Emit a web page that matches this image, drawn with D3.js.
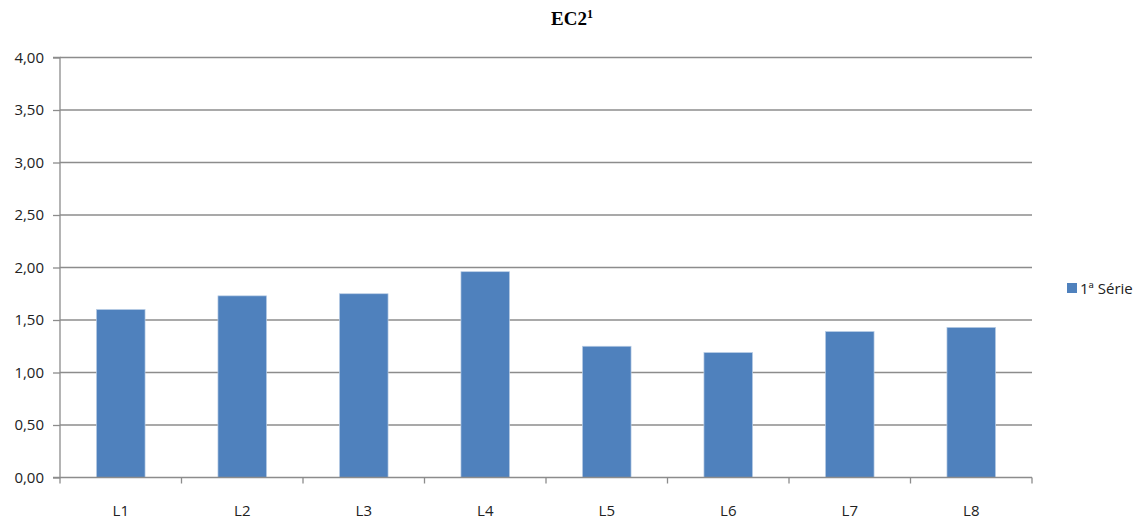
<!DOCTYPE html>
<html><head><meta charset="utf-8">
<script src="https://cdn.jsdelivr.net/npm/d3@7"></script>
<style>body{margin:0;background:#fff}svg{display:block}</style>
</head><body>
<svg id="c" width="1147" height="522"></svg>
<script>
const categories = ["L1","L2","L3","L4","L5","L6","L7","L8"];
const values = [1.60,1.73,1.75,1.96,1.25,1.19,1.39,1.43];
const yTicks = [0,0.5,1,1.5,2,2.5,3,3.5,4];
const seriesName = "1ª Série";

const svg = d3.select("#c");
const m = {l:60, r:1032, t:57.5, b:477.5};
const x = d3.scaleBand().domain(categories).range([m.l,m.r]).paddingInner(0.6).paddingOuter(0.3);
const xb = d3.scaleBand().domain(categories).range([m.l,m.r]);
const y = d3.scaleLinear().domain([0,4]).range([m.b,m.t]);
const fmt = v => d3.format(".2f")(v).replace(".",",");
const font = "'Open Sans', 'Liberation Sans', sans-serif";

// gridlines
svg.append("g").selectAll("line").data(yTicks.filter(d=>d>0)).join("line")
  .attr("x1",m.l).attr("x2",m.r).attr("y1",d=>y(d)).attr("y2",d=>y(d))
  .attr("stroke","#8c8c8c").attr("stroke-width",1.3);

// y axis
const ya = svg.append("g").attr("transform",`translate(${m.l},0)`)
  .call(d3.axisLeft(y).tickValues(yTicks).tickFormat(fmt).tickSize(7).tickPadding(9));
ya.select(".domain").attr("stroke","#8c8c8c").attr("stroke-width",1.3).attr("d",`M-7,${m.t}H0V${m.b}H-7`);
ya.selectAll(".tick line").attr("stroke","#8c8c8c").attr("stroke-width",1.3);
ya.selectAll(".tick text").attr("font-family",font).attr("font-size",15).attr("fill","#222");

// bars
svg.append("g").selectAll("rect").data(values).join("rect")
  .attr("x",(d,i)=>x(categories[i])).attr("width",x.bandwidth())
  .attr("y",d=>y(d)).attr("height",d=>y(0)-y(d))
  .attr("fill","#4f81bd").attr("stroke","#b9cde5").attr("stroke-width",0.7);

// x axis
const xa = svg.append("g").attr("transform",`translate(0,${m.b})`);
xa.append("line").attr("x1",m.l).attr("x2",m.r).attr("stroke","#8c8c8c").attr("stroke-width",1.5);
const bounds = categories.map(c=>xb(c)).concat([m.r]);
xa.selectAll("line.tk").data(bounds).join("line").attr("class","tk")
  .attr("x1",d=>d).attr("x2",d=>d).attr("y1",0).attr("y2",6)
  .attr("stroke","#8c8c8c").attr("stroke-width",1.3);
xa.selectAll("text").data(categories).join("text")
  .attr("x",d=>xb(d)+xb.bandwidth()/2).attr("y",38)
  .attr("text-anchor","middle").attr("font-family",font).attr("font-size",15).attr("fill","#222")
  .text(d=>d);

// title
const t = svg.append("text").attr("x",572).attr("y",25).attr("text-anchor","middle")
  .attr("font-family","'Liberation Serif', 'DejaVu Serif', serif").attr("font-weight","bold").attr("font-size",19).attr("fill","#000");
t.append("tspan").text("EC2");
t.append("tspan").attr("font-size",12).attr("dy",-7).text("1");

// legend
const lg = svg.append("g").attr("transform","translate(1067,283)");
lg.append("rect").attr("width",10).attr("height",10).attr("fill","#4f81bd");
lg.append("text").attr("x",13).attr("y",11).attr("font-family",font).attr("font-size",15).attr("fill","#222").text(seriesName);
</script>
</body></html>
